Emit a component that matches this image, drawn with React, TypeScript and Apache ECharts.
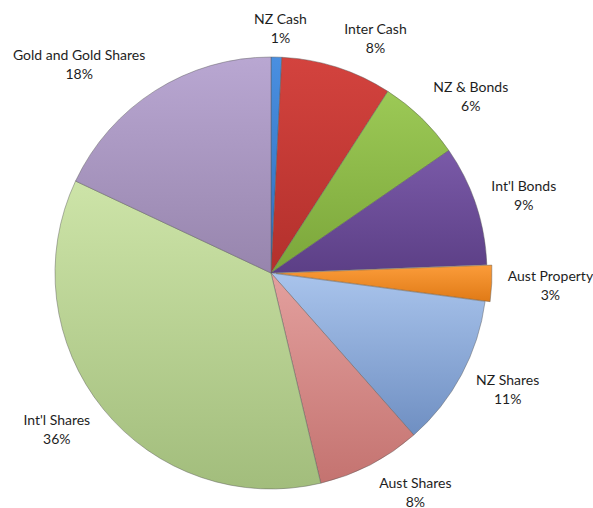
import React, { useEffect, useRef } from "react";
import * as echarts from "echarts";

const categories = [
  "NZ Cash",
  "Inter Cash",
  "NZ & Bonds",
  "Int'l Bonds",
  "Aust Property",
  "NZ Shares",
  "Aust Shares",
  "Int'l Shares",
  "Gold and Gold Shares",
];
const values = [0.8, 8.3, 6.3, 9.0, 2.7, 11.4, 7.8, 35.7, 18.0];
const explodedCategory = "Aust Property";

const topColors = [
  "#4a8fe0",
  "#d3433e",
  "#9cc956",
  "#7a5aa8",
  "#fb9c3a",
  "#a9c4ec",
  "#e3a09e",
  "#cde4a8",
  "#b9a7d2",
];
const bottomColors = [
  "#2f6fbd",
  "#b3302c",
  "#7ba63a",
  "#5c3f86",
  "#e07a16",
  "#6f8fc2",
  "#c47370",
  "#a2bd7c",
  "#9785ad",
];

const CX = 271;
const CY = 273;
const RADIUS = 216;
const LABEL_RING = 229;
const EXPLODE = 5;
const FONT_SIZE = 14;
const LINE_HEIGHT = 19;
const FONT_FAMILY = "Lato";
const BORDER = "rgba(90,90,90,0.45)";

const total = values.reduce((a, b) => a + b, 0);
const before = values.map((_, i) =>
  values.slice(0, i).reduce((a, b) => a + b, 0)
);
const midAngle = (i: number) =>
  ((before[i] + values[i] / 2) / total) * Math.PI * 2;

let measureCtx: CanvasRenderingContext2D | null = null;
function textWidth(s: string) {
  if (!measureCtx) {
    const c = document.createElement("canvas");
    measureCtx = c.getContext("2d");
  }
  if (!measureCtx) return s.length * 7;
  measureCtx.font = `${FONT_SIZE}px ${FONT_FAMILY}`;
  return measureCtx.measureText(s).width;
}

function labelText(i: number) {
  return `${categories[i]}\n${Math.round((values[i] / total) * 100)}%`;
}

const clamp = (v: number, lo: number, hi: number) =>
  Math.min(hi, Math.max(lo, v));

function placeLabel(params: any) {
  const i = params.dataIndex;
  const lines = labelText(i).split("\n");
  const w = Math.max(...lines.map(textWidth));
  const h = lines.length * LINE_HEIGHT;
  const a = midAngle(i);
  const ux = Math.sin(a);
  const uy = -Math.cos(a);
  let ring = LABEL_RING;
  if (categories[i] === explodedCategory) ring += EXPLODE;
  const px = CX + ux * ring;
  const py = CY + uy * ring;
  const fx = clamp(ux / 0.2, -1, 1);
  const fy = clamp(1.2 * uy, -1.1, 1.1);
  return {
    x: px + fx * (w / 2 + 3),
    y: py + fy * (h / 2 - 4),
    align: "center",
    verticalAlign: "middle",
  };
}

function fill(i: number) {
  return {
    type: "linear",
    x: 0,
    y: 0,
    x2: 0,
    y2: 1,
    colorStops: [
      { offset: 0, color: topColors[i] },
      { offset: 1, color: bottomColors[i] },
    ],
  };
}

export default function App() {
  const ref = useRef<HTMLDivElement>(null);

  useEffect(() => {
    if (!ref.current) return;
    const chart = echarts.init(ref.current, undefined, { renderer: "svg" });
    const explodedIndex = categories.indexOf(explodedCategory);
    const ea = midAngle(explodedIndex);
    const explodedCenter = [
      CX + Math.sin(ea) * EXPLODE,
      CY - Math.cos(ea) * EXPLODE,
    ];

    const mainData = categories.map((name, i) => ({
      name,
      value: values[i],
      itemStyle:
        i === explodedIndex
          ? { color: "transparent", borderColor: "transparent", borderWidth: 0 }
          : { color: fill(i) },
    }));
    const explodedData = categories.map((name, i) => ({
      name,
      value: values[i],
      itemStyle:
        i === explodedIndex
          ? { color: fill(i) }
          : { color: "transparent", borderColor: "transparent", borderWidth: 0 },
    }));

    chart.setOption({
      animation: false,
      backgroundColor: "#ffffff",
      series: [
        {
          type: "pie",
          center: [CX, CY],
          radius: [0, RADIUS],
          startAngle: 90,
          clockwise: true,
          silent: true,
          avoidLabelOverlap: false,
          itemStyle: { borderColor: BORDER, borderWidth: 1 },
          label: {
            show: true,
            position: "outside",
            fontFamily: FONT_FAMILY,
            fontSize: FONT_SIZE,
            lineHeight: LINE_HEIGHT,
            color: "#1e1e1e",
            distanceToLabelLine: 0,
            formatter: (p: any) => labelText(p.dataIndex),
          },
          labelLine: { show: false, length: 10, length2: 0 },
          labelLayout: placeLabel,
          data: mainData,
        },
        {
          type: "pie",
          center: explodedCenter,
          radius: [0, RADIUS],
          startAngle: 90,
          clockwise: true,
          silent: true,
          itemStyle: { borderColor: BORDER, borderWidth: 1 },
          label: { show: false },
          labelLine: { show: false },
          data: explodedData,
        },
      ],
    });
    return () => chart.dispose();
  }, []);

  return (
    <div
      ref={ref}
      style={{ position: "fixed", left: 0, top: 0, width: 593, height: 508 }}
    />
  );
}
